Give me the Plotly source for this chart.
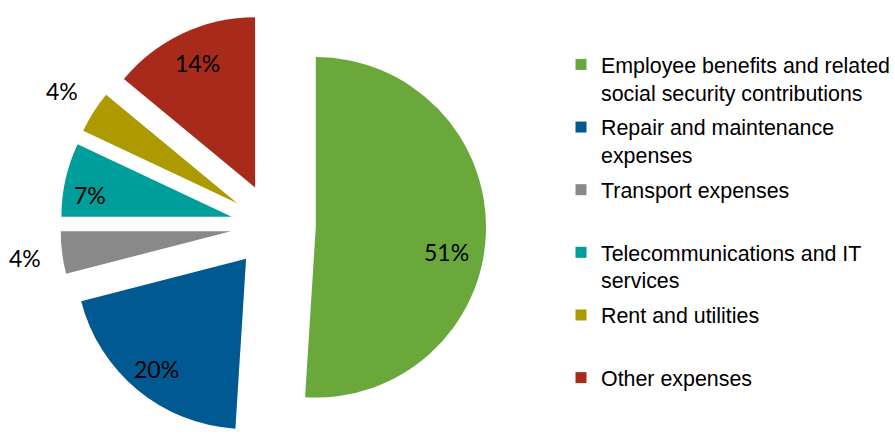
import math
import plotly.graph_objects as go

# Expense categories and their shares (%)
categories = [
    "Employee benefits and related<br>social security contributions",
    "Repair and maintenance<br>expenses",
    "Transport expenses<br> ",
    "Telecommunications and IT<br>services",
    "Rent and utilities<br> ",
    "Other expenses<br> ",
]
shares = [51, 20, 4, 7, 4, 14]
slice_colors = ["#6AA83B", "#005A91", "#898989", "#009E9A", "#AD9900", "#A82A1A"]
# placement of each percentage label: distance from the slice tip (fraction of radius)
# and a small angular nudge (degrees) away from the slice's mid-line
label_radius = [0.78, 0.83, 1.22, 0.84, 1.22, 0.80]
label_nudge = [8.7, 0.0, 0.0, -4.0, 0.0, 0.0]

W, H = 895, 441
PULL = 0.25
DOMAIN_X = [61.0 / W, 491.0 / W]
DOMAIN_Y = [0.0, 430.0 / H]

fig = go.Figure()

fig.add_trace(
    go.Pie(
        labels=categories,
        values=shares,
        sort=False,
        direction="clockwise",
        rotation=0,
        pull=[PULL] * len(shares),
        marker=dict(colors=slice_colors, line=dict(width=0)),
        textinfo="none",
        hoverinfo="label+percent",
        automargin=False,
        showlegend=False,
        domain=dict(x=DOMAIN_X, y=DOMAIN_Y),
    )
)

# Legend entries, one per category, drawn with the slice colours
for name, color in zip(categories, slice_colors):
    fig.add_trace(
        go.Scatter(
            x=[None],
            y=[None],
            mode="markers",
            name=name,
            legendgroup=name,
            marker=dict(symbol="square", size=11, color=color),
            showlegend=True,
        )
    )

# Pie geometry, following plotly's own pie sizing (radius shrinks to leave room for the pull)
box_w = W * (DOMAIN_X[1] - DOMAIN_X[0])
box_h = H * (DOMAIN_Y[1] - DOMAIN_Y[0])
radius = min(box_w, box_h) / 2 / (1 + PULL)
cx = W * (DOMAIN_X[0] + DOMAIN_X[1]) / 2
cy = H * (1 - DOMAIN_Y[0]) - box_h / 2

total = sum(shares)
start = 0.0
for value, frac, nudge in zip(shares, label_radius, label_nudge):
    mid = (start + value / 2) / total * 2 * math.pi
    start += value
    tip_x = cx + PULL * radius * math.sin(mid)
    tip_y = cy - PULL * radius * math.cos(mid)
    ang = mid + math.radians(nudge)
    px = tip_x + frac * radius * math.sin(ang)
    py = tip_y - frac * radius * math.cos(ang)
    fig.add_annotation(
        x=px / W,
        y=1 - py / H,
        xref="paper",
        yref="paper",
        text=f"{value}%",
        showarrow=False,
        xanchor="center",
        yanchor="middle",
        font=dict(family="Lato, Carlito, sans-serif", size=23, color="#000000"),
    )

fig.update_layout(
    width=W,
    height=H,
    margin=dict(l=0, r=0, t=0, b=0),
    paper_bgcolor="white",
    plot_bgcolor="white",
    showlegend=True,
    xaxis=dict(visible=False),
    yaxis=dict(visible=False),
    legend=dict(
        x=567 / W,
        y=1 - 44 / H,
        xanchor="left",
        yanchor="top",
        valign="top",
        tracegroupgap=4,
        font=dict(family="Liberation Sans, Arial, sans-serif", size=21.4, color="#000000"),
        bgcolor="rgba(0,0,0,0)",
    ),
)

fig.write_html("out.html")
